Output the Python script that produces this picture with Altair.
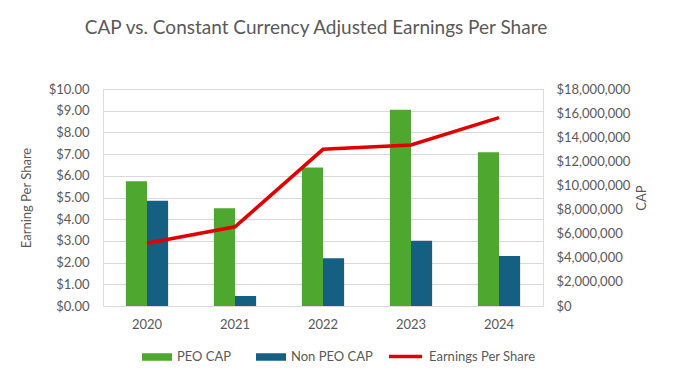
import altair as alt
import pandas as pd

years = ["2020", "2021", "2022", "2023", "2024"]
peo_cap = [10350000, 8100000, 11480000, 16270000, 12750000]
non_peo_cap = [8740000, 830000, 3960000, 5420000, 4150000]
eps = [2.89, 3.65, 7.22, 7.42, 8.68]

series_bars = ["PEO CAP", "Non PEO CAP"]
series_line = ["Earnings Per Share"]

bars_df = pd.DataFrame({
    "Year": years * 2,
    "Series": [series_bars[0]] * len(years) + [series_bars[1]] * len(years),
    "CAP": peo_cap + non_peo_cap,
})
eps_df = pd.DataFrame({
    "Year": years,
    "Series": series_line * len(years),
    "EPS": eps,
})

FONT = "Lato"
TXT = "#595959"

x = alt.X(
    "Year:N",
    scale=alt.Scale(paddingInner=0.52, paddingOuter=0.26),
    axis=alt.Axis(title=None, labelAngle=0, ticks=False, domain=False,
                  labelPadding=12, labelFontSize=13, labelColor=TXT, labelFont=FONT),
)

bars = alt.Chart(bars_df).mark_bar().encode(
    x=x,
    xOffset=alt.XOffset("Series:N", sort=series_bars),
    y=alt.Y(
        "CAP:Q",
        scale=alt.Scale(domain=[0, 18000000], nice=False),
        axis=alt.Axis(
            orient="right", title="CAP", format="$,.0f", values=list(range(0, 18000001, 2000000)),
            grid=False, ticks=False, domain=False, labelPadding=13,
            labelFontSize=13, labelColor=TXT, labelFont=FONT,
            titleFontSize=13, titleColor=TXT, titleFont=FONT, titleFontWeight="normal",
            titleX=105, titleAngle=270,
        ),
    ),
    color=alt.Color(
        "Series:N",
        sort=series_bars,
        scale=alt.Scale(domain=series_bars, range=["#4EA72E", "#156082"]),
        legend=alt.Legend(
            title=None, orient="none", direction="horizontal", legendX=39, legendY=253,
            symbolType="M-1,-0.25H1V0.25H-1Z", symbolSize=900, symbolStrokeWidth=0,
            labelFontSize=13, labelColor=TXT, labelFont=FONT, columnPadding=24, labelOffset=5,
        ),
    ),
)

line = alt.Chart(eps_df).mark_line(strokeWidth=3.5).encode(
    x=x,
    y=alt.Y(
        "EPS:Q",
        scale=alt.Scale(domain=[0, 10], nice=False),
        axis=alt.Axis(
            orient="left", title="Earning Per Share", format="$.2f", values=list(range(0, 11)),
            grid=True, gridColor="#D9D9D9", ticks=False, domain=False, labelPadding=14,
            labelFontSize=13, labelColor=TXT, labelFont=FONT,
            titleFontSize=13, titleColor=TXT, titleFont=FONT, titleFontWeight="normal",
            titleX=-70,
        ),
    ),
    stroke=alt.Stroke(
        "Series:N",
        scale=alt.Scale(domain=series_line, range=["#E00000"]),
        legend=alt.Legend(
            title=None, orient="none", legendX=284, legendY=249,
            symbolType="stroke", symbolSize=1100, symbolStrokeWidth=3.5,
            labelFontSize=13, labelColor=TXT, labelFont=FONT, labelOffset=5,
        ),
    ),
)

chart = alt.layer(bars, line).resolve_scale(y="independent", color="independent").properties(
    width=440,
    height=217,
    autosize=alt.AutoSizeParams(type="none"),
    padding={"left": 95, "top": 81, "right": 129, "bottom": 66},
    title=alt.TitleParams(
        "CAP vs. Constant Currency Adjusted Earnings Per Share",
        fontSize=19, font=FONT, color=TXT, fontWeight="normal", anchor="middle",
        offset=45, dx=-7,
    ),
).configure_view(stroke=None).configure(background="white")

chart.save("out.html", embed_options={"renderer": "svg", "actions": False})
